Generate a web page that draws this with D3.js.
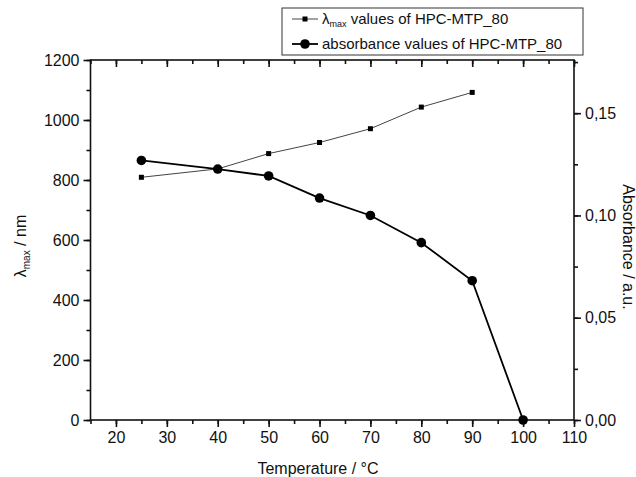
<!DOCTYPE html>
<html lang="en">
<head>
    <meta charset="UTF-8">
    <title>lambda max and absorbance vs temperature</title>
    <script src="https://cdnjs.cloudflare.com/ajax/libs/d3/7.8.5/d3.min.js"></script>
    <style>
        body {
            margin: 0;
            padding: 0;
            background-color: #fff;
        }
        svg text {
            font-family: "Liberation Sans", Arial, sans-serif;
            fill: #111;
        }
        .axis path, .axis line {
            stroke: #111;
            stroke-width: 1.6px;
        }
    </style>
</head>
<body>
    <div id="chart"></div>

    <script>
        const width = 636;
        const height = 477;

        // data
        const temps = [25, 40, 50, 60, 70, 80, 90];
        const lambdaMax = [809, 837, 888, 925, 971, 1043, 1092];
        const absTemps = [25, 40, 50, 60, 70, 80, 90, 100];
        const absorbance = [0.1269, 0.1227, 0.1193, 0.1085, 0.1000, 0.0867, 0.0681, 0.0];

        const xTicks = [20, 30, 40, 50, 60, 70, 80, 90, 100, 110];
        const leftTicks = [0, 200, 400, 600, 800, 1000, 1200];
        const rightTicks = [0, 0.05, 0.10, 0.15];

        const legendLabels = ["values of HPC-MTP_80", "absorbance values of HPC-MTP_80"];

        const margin = { top: 60, right: 62, bottom: 57, left: 90.5 };

        const svg = d3.select("#chart")
            .append("svg")
            .attr("width", width)
            .attr("height", height);

        const x = d3.scaleLinear().domain([15, 110]).range([margin.left, width - margin.right]);
        const yL = d3.scaleLinear().domain([0, 1200]).range([height - margin.bottom, margin.top]);
        const yR = d3.scaleLinear().domain([0, 0.176]).range([height - margin.bottom, margin.top]);

        const x0 = margin.left, x1 = width - margin.right;
        const y0 = height - margin.bottom, y1 = margin.top;

        const minorX = d3.range(15, 111, 5);
        const minorL = d3.range(0, 1201, 100);
        const minorR = d3.range(0, 0.176, 0.025);

        function tickStyle(g) {
            g.select(".domain").remove();
            g.selectAll("text").style("font-size", "16px");
        }

        // bottom axis: minor then major
        svg.append("g").attr("class", "axis").attr("transform", `translate(0,${y0})`)
            .call(d3.axisBottom(x).tickValues(minorX).tickSize(4).tickFormat(""))
            .call(tickStyle);
        svg.append("g").attr("class", "axis").attr("transform", `translate(0,${y0})`)
            .call(d3.axisBottom(x).tickValues(xTicks).tickSize(7).tickPadding(5).tickFormat(d3.format("d")))
            .call(tickStyle);

        // top axis, ticks pointing in
        svg.append("g").attr("class", "axis").attr("transform", `translate(0,${y1})`)
            .call(d3.axisBottom(x).tickValues(minorX).tickSize(4).tickFormat(""))
            .call(tickStyle);
        svg.append("g").attr("class", "axis").attr("transform", `translate(0,${y1})`)
            .call(d3.axisBottom(x).tickValues(xTicks).tickSize(7).tickFormat(""))
            .call(tickStyle);

        // left axis
        svg.append("g").attr("class", "axis").attr("transform", `translate(${x0},0)`)
            .call(d3.axisLeft(yL).tickValues(minorL).tickSize(4).tickFormat(""))
            .call(tickStyle);
        svg.append("g").attr("class", "axis").attr("transform", `translate(${x0},0)`)
            .call(d3.axisLeft(yL).tickValues(leftTicks).tickSize(7).tickPadding(4).tickFormat(d3.format("d")))
            .call(tickStyle);

        // right axis
        svg.append("g").attr("class", "axis").attr("transform", `translate(${x1},0)`)
            .call(d3.axisRight(yR).tickValues(minorR).tickSize(4).tickFormat(""))
            .call(tickStyle);
        svg.append("g").attr("class", "axis").attr("transform", `translate(${x1},0)`)
            .call(d3.axisRight(yR).tickValues(rightTicks).tickSize(7).tickPadding(4)
                .tickFormat(d => d3.format(".2f")(d).replace(".", ",")))
            .call(tickStyle);

        // frame
        svg.append("rect")
            .attr("x", x0).attr("y", y1)
            .attr("width", x1 - x0).attr("height", y0 - y1)
            .attr("fill", "none").attr("stroke", "#111").attr("stroke-width", 1.6);

        // axis titles
        svg.append("text")
            .attr("x", 318).attr("y", 474)
            .attr("text-anchor", "middle")
            .style("font-size", "16px")
            .text("Temperature / \u00B0C");

        const leftTitle = svg.append("text")
            .attr("transform", `translate(26,246) rotate(-90)`)
            .attr("text-anchor", "middle")
            .style("font-size", "16px");
        leftTitle.append("tspan").text("\u03BB");
        leftTitle.append("tspan").attr("dy", 4).style("font-size", "10px").text("max");
        leftTitle.append("tspan").attr("dy", -4).text(" / nm");

        svg.append("text")
            .attr("transform", `translate(623,247) rotate(90)`)
            .attr("text-anchor", "middle")
            .style("font-size", "16px")
            .text("Absorbance / a.u.");

        // lambda max series
        const lamData = temps.map((t, i) => ({ t: t, v: lambdaMax[i] }));
        svg.append("path")
            .datum(lamData)
            .attr("fill", "none")
            .attr("stroke", "#444")
            .attr("stroke-width", 1)
            .attr("d", d3.line().x(d => x(d.t)).y(d => yL(d.v)));
        svg.append("g")
            .selectAll("rect")
            .data(lamData)
            .enter().append("rect")
            .attr("x", d => x(d.t) - 2.5)
            .attr("y", d => yL(d.v) - 2.5)
            .attr("width", 5).attr("height", 5)
            .attr("fill", "#000");

        // absorbance series
        const absData = absTemps.map((t, i) => ({ t: t, v: absorbance[i] }));
        svg.append("path")
            .datum(absData)
            .attr("fill", "none")
            .attr("stroke", "#000")
            .attr("stroke-width", 1.8)
            .attr("d", d3.line().x(d => x(d.t)).y(d => yR(d.v)));
        svg.append("g")
            .selectAll("circle")
            .data(absData)
            .enter().append("circle")
            .attr("cx", d => x(d.t))
            .attr("cy", d => yR(d.v))
            .attr("r", 4.8)
            .attr("fill", "#000");

        // legend
        const lg = svg.append("g");
        lg.append("rect")
            .attr("x", 282).attr("y", 8)
            .attr("width", 301).attr("height", 47)
            .attr("fill", "#fff").attr("stroke", "#333").attr("stroke-width", 1);

        lg.append("line").attr("x1", 292).attr("x2", 318).attr("y1", 19).attr("y2", 19)
            .attr("stroke", "#444").attr("stroke-width", 1);
        lg.append("rect").attr("x", 302.5).attr("y", 16.5).attr("width", 5).attr("height", 5).attr("fill", "#000");
        const t1 = lg.append("text").attr("x", 322).attr("y", 24).style("font-size", "15px");
        t1.append("tspan").text("\u03BB");
        t1.append("tspan").attr("dy", 3).style("font-size", "9px").text("max");
        t1.append("tspan").attr("dy", -3).text(" " + legendLabels[0]);

        lg.append("line").attr("x1", 292).attr("x2", 318).attr("y1", 44).attr("y2", 44)
            .attr("stroke", "#000").attr("stroke-width", 1.8);
        lg.append("circle").attr("cx", 305).attr("cy", 44).attr("r", 4.8).attr("fill", "#000");
        lg.append("text").attr("x", 322).attr("y", 49).style("font-size", "15px").text(legendLabels[1]);
    </script>
</body>
</html>
